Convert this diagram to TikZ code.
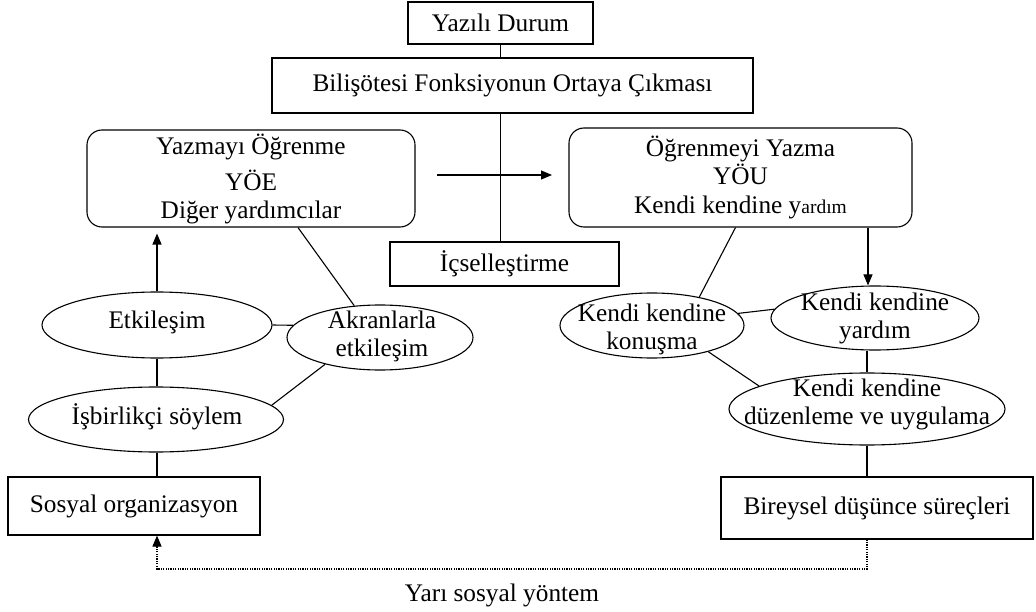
\documentclass[tikz,border=0pt]{standalone}
\usepackage{fontspec}
\setmainfont{Liberation Serif}
\usetikzlibrary{shapes.geometric,arrows.meta,calc}
\tikzset{
  base/.style={line width=1.1pt},
  box/.style={base, draw, inner sep=0pt, align=center, font=\fontsize{25.3}{28}\selectfont},
  rbox/.style={box, rounded corners=15pt},
  ell/.style={base, draw, ellipse, inner sep=0pt},
  txt/.style={inner sep=0pt, align=center, font=\fontsize{25.3}{28}\selectfont},
  ln/.style={base},
  arr/.style={base, -{Triangle[length=11pt,width=9pt]}},
  dot/.style={base, dash pattern=on 1.2pt off 1.2pt, -{Triangle[length=11pt,width=9pt]}}
}
\begin{document}
\begin{tikzpicture}[x=1pt,y=-1pt]
\useasboundingbox (0,0) rectangle (1036,612);
% top boxes
\node[box, minimum width=185pt, minimum height=42pt] (yaz) at (500.5,23) {Yazılı Durum};
\node[box, minimum width=481pt, minimum height=55pt] (bil) at (512.5,85.5) {Bilişötesi Fonksiyonun Ortaya Çıkması};
\node[box, minimum width=229pt, minimum height=44pt] (ice) at (504.5,264) {İçselleştirme};
% rounded boxes
\node[rbox, minimum width=328pt, minimum height=97pt] (lb) at (251,178.5) {Yazmayı Öğrenme\\[8pt] YÖE\\ Diğer yardımcılar};
\node[rbox, minimum width=343pt, minimum height=99pt] (rb) at (740.5,177.5) {Öğrenmeyi Yazma\\ YÖU\\[1pt] Kendi kendine y{\fontsize{19.5}{22}\selectfont ardım}};
% left ellipses
\node[ell, minimum width=230pt, minimum height=66pt] (etk) at (157,325) {};
\node[txt] (etkt) at (157,322) {Etkileşim};
\node[ell, minimum width=186pt, minimum height=65pt] (akr) at (380,337.5) {};
\node[txt] (akrt) at (382,336) {Akranlarla\\ etkileşim};
\node[ell, minimum width=255pt, minimum height=65pt] (isb) at (156,419.5) {};
\node[txt] (isbt) at (157,417) {İşbirlikçi söylem};
% right ellipses
\node[ell, minimum width=184pt, minimum height=65pt] (kon) at (652,325.5) {};
\node[txt] (kont) at (652,329) {Kendi kendine\\ konuşma};
\node[ell, minimum width=208pt, minimum height=64pt] (yar) at (875,318) {};
\node[txt] (yart) at (875,318) {Kendi kendine\\ yardım};
\node[ell, minimum width=276pt, minimum height=72pt] (duz) at (867,409) {};
\node[txt] (duzt) at (867,404.5) {Kendi kendine\\ düzenleme ve uygulama};
% bottom boxes
\node[box, minimum width=252pt, minimum height=58pt] (sos) at (134,506) {Sosyal organizasyon};
\node[box, minimum width=312pt, minimum height=62pt] (bir) at (877,508) {Bireysel düşünce süreçleri};
\node[txt] (yari) at (502,595) {Yarı sosyal yöntem};
% coordinates
\coordinate (h1) at (437,175);
\coordinate (h2) at (552,175);
\coordinate (dl) at (157,569);
\coordinate (dr) at (867,569);
\coordinate (ra) at ($(rb.south)+(127.5,0)$);
\coordinate (la) at ($(lb.south)+(47,0)$);
\coordinate (lk) at ($(rb.south)+(-5,0)$);
% connectors top
\draw[ln] (yaz.south) -- (yaz.south |- bil.north);
\draw[ln] (yaz.south |- bil.south) -- (yaz.south |- ice.north);
\draw[arr] (h1) -- (h2);
% left side
\draw[arr] (etk.north) -- ($(etk.north |- lb.south)+(0,6)$);
\draw[ln] (la) -- (akr.129);
\draw[ln] (etk.east) -- (akr.172);
\draw[ln] (etk.south) -- (etk.south |- isb.north);
\draw[ln] (isb.7) -- (akr.206);
\draw[ln] (etk.south |- isb.south) -- (etk.south |- sos.north);
% right side
\draw[ln] (lk) -- (kon.31);
\draw[arr] (ra) -- (ra |- yar.north);
\draw[ln] (kon.8) -- (yar.175);
\draw[ln] (duz.north |- yar.south) -- (duz.north);
\draw[ln] (kon.-25) -- (duz.168);
\draw[ln] (duz.south) -- (duz.south |- bir.north);
% dotted return
\draw[dot] (dr |- bir.south) -- (dr) -- (dl) -- (dl |- sos.south);
\end{tikzpicture}
\end{document}
